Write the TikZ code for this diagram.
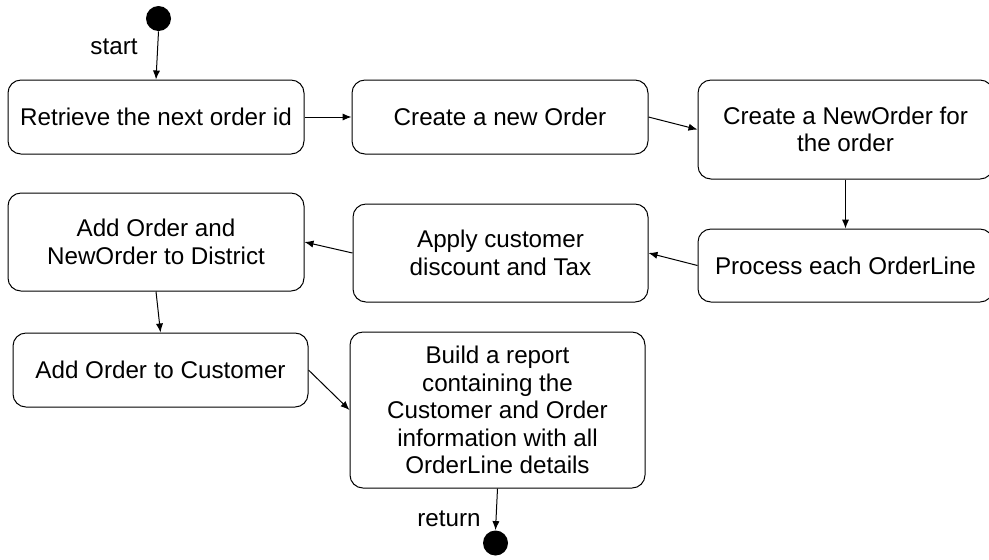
\documentclass[tikz,border=0pt]{standalone}
\usepackage{fontspec}
\setmainfont{Liberation Sans}
\usetikzlibrary{arrows.meta}
\begin{document}
\begin{tikzpicture}[x=0.5pt,y=-0.5pt,
  box/.style={draw, line width=0.5pt, rounded corners=6.5pt, align=center,
    font=\fontsize{12.1}{13.7}\selectfont, inner sep=0pt},
  arr/.style={-{Latex[length=4.5pt,width=3.6pt]}, line width=0.5pt},
  dot/.style={circle, fill=black, minimum size=12.5pt, inner sep=0pt},
  lbl/.style={font=\fontsize{12.1}{13.7}\selectfont, inner sep=0pt}]
\useasboundingbox (0,0) rectangle (989,559);
\node[dot] (s) at (158.5,18.5) {};
\node[box, minimum width=148pt, minimum height=37pt] (b1) at (156,117) {Retrieve the next order id};
\node[box, minimum width=148pt, minimum height=37pt] (b2) at (500,117) {Create a new Order};
\node[box, minimum width=147.5pt, minimum height=49.5pt] (b3) at (845.5,129.5) {Create a NewOrder for\\the order};
\node[box, minimum width=147.5pt, minimum height=36.5pt] (b4) at (845.5,265.5) {Process each OrderLine};
\node[box, minimum width=147.5pt, minimum height=49pt] (b5) at (500.5,253) {Apply customer\\discount and Tax};
\node[box, minimum width=148pt, minimum height=49pt] (b6) at (156,242) {Add Order and\\NewOrder to District};
\node[box, minimum width=147.5pt, minimum height=37pt] (b7) at (160.5,370) {Add Order to Customer};
\node[box, minimum width=147.5pt, minimum height=78pt] (b8) at (497.5,410) {Build a report\\containing the\\Customer and Order\\information with all\\OrderLine details};
\node[dot] (e) at (495.5,543) {};
\node[lbl] (ls) at (114,47) {start};
\node[lbl] (lr) at (449,519) {return};
\draw[arr] (s.south) -- (b1.north);
\draw[arr] (b1.east) -- (b2.west);
\draw[arr] (b2.east) -- (b3.west);
\draw[arr] (b3.south) -- (b4.north);
\draw[arr] (b4.west) -- (b5.east);
\draw[arr] (b5.west) -- (b6.east);
\draw[arr] (b6.south) -- (b7.north);
\draw[arr] (b7.east) -- (b8.west);
\draw[arr] (b8.south) -- (e.north);
\end{tikzpicture}
\end{document}
